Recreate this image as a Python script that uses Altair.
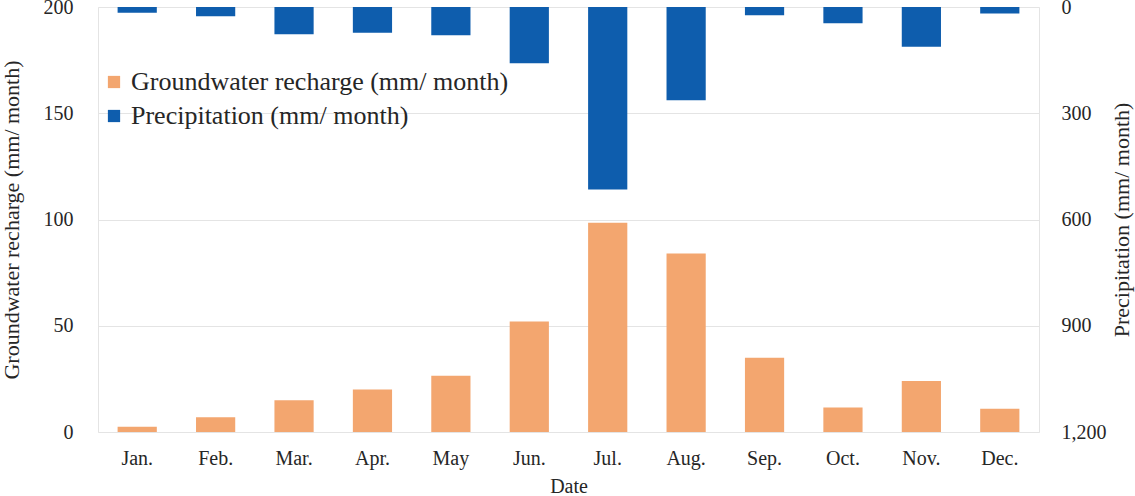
import altair as alt
import pandas as pd

# Monthly groundwater recharge and precipitation (mm/ month)
months = ["Jan.", "Feb.", "Mar.", "Apr.", "May", "Jun.",
          "Jul.", "Aug.", "Sep.", "Oct.", "Nov.", "Dec."]
recharge = [2.5, 7, 15, 20, 26.5, 52, 98.5, 84, 35, 11.5, 24, 11]
precip = [16, 26, 77, 73, 80, 159, 515, 263, 23, 46, 112, 18]

series_names = ["Groundwater recharge (mm/ month)", "Precipitation (mm/ month)"]
series_colors = ["#F3A66F", "#0E5DAD"]

df_r = pd.DataFrame({"month": months, "value": recharge, "series": series_names[0]})
df_p = pd.DataFrame({"month": months, "value": precip, "series": series_names[1]})

FONT = "Liberation Serif"
TEXT = "#262626"

x_enc = alt.X(
    "month:N",
    sort=months,
    scale=alt.Scale(paddingInner=0.5, paddingOuter=0.25),
    axis=alt.Axis(
        title="Date", labelAngle=0, ticks=False, domain=False,
        labelPadding=16, titlePadding=8,
    ),
)

color_enc = alt.Color(
    "series:N",
    scale=alt.Scale(domain=series_names, range=series_colors),
    legend=alt.Legend(
        title=None, orient="none", legendX=3, legendY=62,
        symbolType="square", symbolSize=150, symbolStrokeWidth=0,
        symbolOpacity=1, labelFontSize=26, labelFont=FONT,
        labelColor=TEXT, labelOffset=4, rowPadding=8, padding=0,
        labelLimit=600,
    ),
)

recharge_bars = alt.Chart(df_r).mark_bar().encode(
    x=x_enc,
    y=alt.Y(
        "value:Q",
        scale=alt.Scale(domain=[0, 200], nice=False),
        axis=alt.Axis(
            title="Groundwater recharge (mm/ month)", values=[0, 50, 100, 150, 200],
            orient="left", ticks=False, domain=False, labelPadding=25,
            grid=True, gridColor="#E4E4E4", titleX=-87, titleBaseline="middle",
        ),
    ),
    color=color_enc,
)

precip_bars = alt.Chart(df_p).mark_bar().encode(
    x=x_enc,
    y=alt.Y(
        "value:Q",
        scale=alt.Scale(domain=[0, 1200], reverse=True, nice=False),
        axis=alt.Axis(
            title="Precipitation (mm/ month)", values=[0, 300, 600, 900, 1200],
            format=",d", orient="right", ticks=False, domain=False,
            labelPadding=22, labelAlign="left", grid=False,
            titleAngle=270, titleX=82, titleBaseline="middle",
        ),
    ),
    color=color_enc,
)

chart = (
    alt.layer(recharge_bars, precip_bars)
    .resolve_scale(y="independent")
    .properties(
        width=941,
        height=425,
        padding={"left": 98, "top": 7, "right": 96, "bottom": 64},
        autosize=alt.AutoSizeParams(type="none"),
        background="white",
    )
    .configure_view(stroke="#E4E4E4", strokeWidth=1)
    .configure_axis(
        labelFont=FONT, titleFont=FONT, labelFontSize=20, titleFontSize=22,
        labelColor=TEXT, titleColor=TEXT, titleFontWeight="normal",
    )
    .configure_axisX(titleFontSize=20)
    .configure_legend(labelFont=FONT, labelFontSize=26, labelColor=TEXT)
)

chart.save("out.html", embed_options={"renderer": "svg", "actions": False})
